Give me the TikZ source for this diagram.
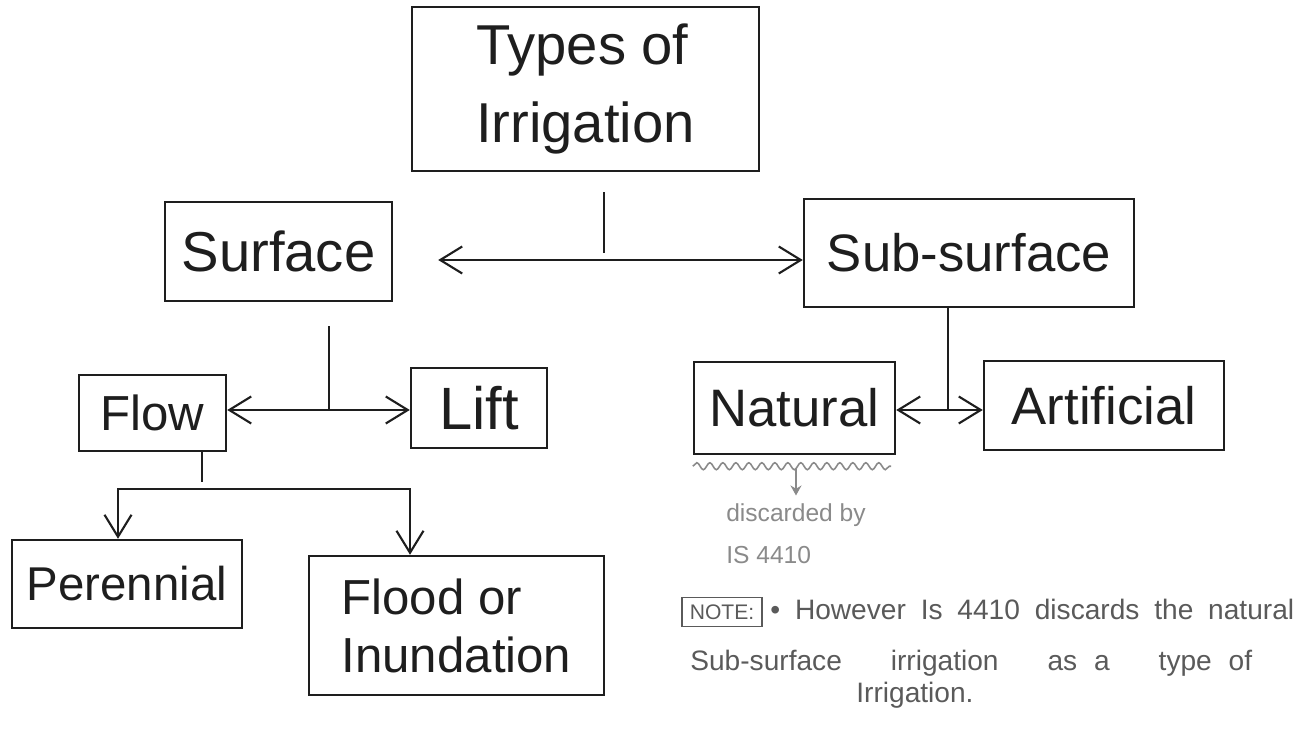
\documentclass[tikz,border=0pt]{standalone}
\usepackage{fontspec}
\setmainfont{Liberation Sans}
\usepackage{xcolor}
\usetikzlibrary{arrows.meta,decorations.pathmorphing}
\definecolor{irink}{HTML}{1E1E1E}
\definecolor{irnote}{HTML}{5A5A5A}
\definecolor{irsoft}{HTML}{8A8A8A}
\newcommand{\irsize}[2]{\fontsize{#1}{#2}\selectfont}
\tikzset{
  kind/.style={rectangle,draw=irink,line width=1.4pt,inner sep=0pt,
               align=center,text=irink},
  link/.style={draw=irink,line width=1.2pt},
  twoway/.style={link,{Straight Barb[length=4.4mm,width=5.4mm]}-{Straight Barb[length=4.4mm,width=5.4mm]}},
  annot/.style={text=irnote,inner sep=0pt},
}

\begin{document}
\begin{tikzpicture}[x=0.02cm,y=-0.02cm]
  \useasboundingbox (0,0) rectangle (1296,729);
  \node[kind,minimum width=6.94cm,minimum height=3.28cm,align=left,font={\irsize{32}{44}}] (types) at (585.5,89) {Types of\\Irrigation};
  \node[kind,minimum width=4.54cm,minimum height=1.98cm,font={\irsize{32}{38}}] (surface) at (278.5,251.5) {Surface};
  \node[kind,minimum width=6.6cm,minimum height=2.16cm,font={\irsize{30}{36}}] (subsurface) at (969,253) {Sub-surface};
  \node[kind,minimum width=2.94cm,minimum height=1.52cm,font={\irsize{28}{34}}] (flow) at (152.5,413) {Flow};
  \node[kind,minimum width=2.72cm,minimum height=1.6cm,font={\irsize{34}{40}}] (lift) at (479,408) {Lift};
  \node[kind,minimum width=4.02cm,minimum height=1.84cm,font={\irsize{30}{36}}] (natural) at (794.5,408) {Natural};
  \node[kind,minimum width=4.8cm,minimum height=1.78cm,font={\irsize{30}{36}}] (artificial) at (1104,405.5) {Artificial};
  \node[kind,minimum width=4.6cm,minimum height=1.76cm,font={\irsize{27}{32}}] (perennial) at (127,584) {Perennial};
  \node[kind,minimum width=5.9cm,minimum height=2.78cm,align=left,font={\irsize{28}{33}}] (flood) at (456.5,625.5) {Flood or\\Inundation};

  \coordinate (tj) at (604,260);
  \coordinate (sj) at (329,410);
  \coordinate (nj) at (948,410);
  \coordinate (fj) at (202,489);
  \coordinate (fl) at (118,489);
  \coordinate (fr) at (410,489);
  \draw[link,shorten <=4mm,shorten >=1.4mm] (types.south -| tj) -- (tj);
  \draw[twoway,shorten <=9mm] (surface.east |- tj) -- (subsurface.west |- tj);
  \draw[link,shorten <=4.8mm] (surface.south -| sj) -- (sj);
  \draw[twoway] (flow.east |- sj) -- (lift.west |- sj);
  \draw[link,shorten >=1.4mm] (flow.south -| fj) -- (fj);
  \draw[twoway] (perennial.north -| fl) -- (fl) -- (fr) -- (flood.north -| fr);
  \draw[link] (subsurface.south -| nj) -- (nj);
  \draw[twoway] (natural.east |- nj) -- (artificial.west |- nj);

  \node[annot,text=irsoft,anchor=north,align=left,font={\irsize{14}{24}}] (disc) at (796,503) {discarded by\\IS 4410};
  \coordinate (wm) at (796,468);
  \draw[irsoft,line width=0.9pt,decorate,decoration={snake,amplitude=0.7mm,segment length=2.6mm}]
    ([yshift=-2.2mm]natural.south west) -- ([yshift=-2.2mm,xshift=-1mm]natural.south east);
  \draw[irsoft,line width=0.9pt,shorten >=1.5mm,-{Stealth[length=2mm,width=2.2mm]}] (wm) -- (disc.north);

  \node[draw=irnote,line width=0.8pt,text=irnote,inner sep=1pt,minimum width=1.6cm,minimum height=0.58cm,font={\irsize{12}{14}}] (notetag) at (722,612) {NOTE:};
  \node[annot,anchor=base west,font={\irsize{16}{20}}] (line1) at (770,620) {\makebox[10.48cm][s]{\textbullet\ However Is 4410 discards the natural}};
  \node[annot,anchor=base west,font={\irsize{16}{20}}] (line2) at (690,670) {\makebox[11.24cm][s]{Sub-surface irrigation as\hspace{0.6em}a type\hspace{0.6em}of}};
  \node[annot,anchor=base west,font={\irsize{16}{20}}] (line3) at (856,703) {Irrigation.};
\end{tikzpicture}
\end{document}
